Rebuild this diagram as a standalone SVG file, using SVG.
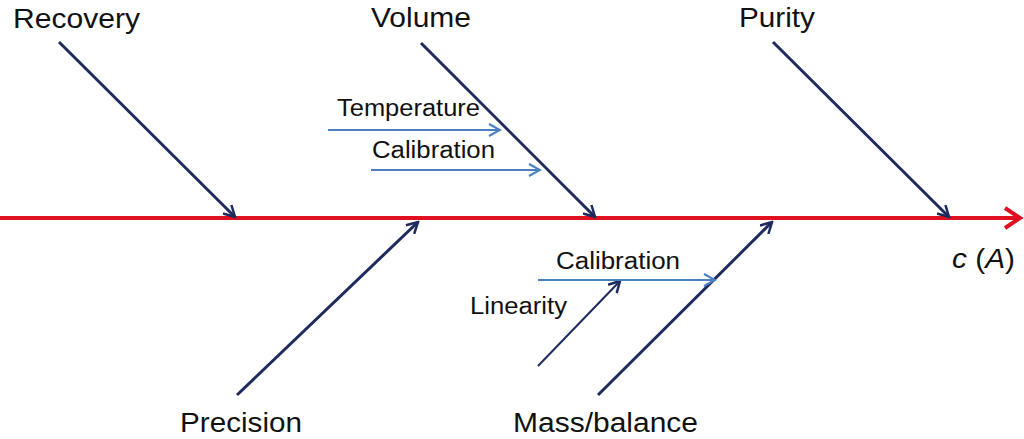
<svg xmlns="http://www.w3.org/2000/svg" width="1024" height="439" viewBox="0 0 1024 439">
  <defs>
    <style>
      .lbl { font-family: "Liberation Sans", Arial, sans-serif; fill: #111; }
      .big { font-size: 27px; }
      .small { font-size: 23px; }
      .branch { stroke: #1f2a5e; stroke-width: 3; fill: none; }
      .sub { stroke: #1f2a5e; stroke-width: 2; fill: none; }
      .blue { stroke: #4a7fc1; stroke-width: 2; fill: none; }
      .spine { stroke: #e0101e; stroke-width: 4; fill: none; }
    </style>
    <marker id="ahNavy" viewBox="0 0 14 14" markerWidth="14" markerHeight="14" refX="12" refY="7" orient="auto" markerUnits="userSpaceOnUse">
      <path d="M1,1 L12,7 L1,13" fill="none" stroke="#1f2a5e" stroke-width="2.5"/>
    </marker>
    <marker id="ahBlue" viewBox="0 0 14 14" markerWidth="14" markerHeight="14" refX="12" refY="7" orient="auto" markerUnits="userSpaceOnUse">
      <path d="M1,1 L12,7 L1,13" fill="none" stroke="#4a7fc1" stroke-width="2"/>
    </marker>
    <marker id="ahRed" viewBox="0 0 20 24" markerWidth="20" markerHeight="24" refX="17" refY="12" orient="auto" markerUnits="userSpaceOnUse">
      <path d="M2,2 L17,12 L2,22" fill="none" stroke="#e0101e" stroke-width="4"/>
    </marker>
  </defs>
  <rect width="1024" height="439" fill="#ffffff"/>

  <g id="connectors">
    <line class="spine" x1="0" y1="218" x2="1020" y2="218" marker-end="url(#ahRed)"/>
    <line class="branch" x1="59" y1="42" x2="235" y2="217" marker-end="url(#ahNavy)"/>
    <line class="branch" x1="421" y1="43" x2="595" y2="217" marker-end="url(#ahNavy)"/>
    <line class="branch" x1="773" y1="42" x2="949" y2="217" marker-end="url(#ahNavy)"/>
    <line class="branch" x1="237" y1="395" x2="418" y2="222" marker-end="url(#ahNavy)"/>
    <line class="branch" x1="598" y1="395" x2="772" y2="222" marker-end="url(#ahNavy)"/>
    <line class="sub" x1="538" y1="366" x2="620" y2="281" marker-end="url(#ahNavy)"/>
    <line class="blue" x1="328" y1="130" x2="500" y2="130" marker-end="url(#ahBlue)"/>
    <line class="blue" x1="371" y1="170" x2="540" y2="170" marker-end="url(#ahBlue)"/>
    <line class="blue" x1="538" y1="280" x2="715" y2="280" marker-end="url(#ahBlue)"/>
  </g>

  <g id="recovery"><text class="lbl big" x="13" y="28" textLength="127" lengthAdjust="spacingAndGlyphs">Recovery</text></g>
  <g id="volume"><text class="lbl big" x="371" y="27" textLength="100" lengthAdjust="spacingAndGlyphs">Volume</text></g>
  <g id="purity"><text class="lbl big" x="739" y="27" textLength="76" lengthAdjust="spacingAndGlyphs">Purity</text></g>
  <g id="precision"><text class="lbl big" x="180" y="432" textLength="122" lengthAdjust="spacingAndGlyphs">Precision</text></g>
  <g id="mass-balance"><text class="lbl big" x="513" y="432" textLength="185" lengthAdjust="spacingAndGlyphs">Mass/balance</text></g>
  <g id="temperature"><text class="lbl small" x="337" y="116" textLength="143" lengthAdjust="spacingAndGlyphs">Temperature</text></g>
  <g id="calibration-upper"><text class="lbl small" x="372" y="158" textLength="123" lengthAdjust="spacingAndGlyphs">Calibration</text></g>
  <g id="calibration-lower"><text class="lbl small" x="556" y="269" textLength="124" lengthAdjust="spacingAndGlyphs">Calibration</text></g>
  <g id="linearity"><text class="lbl small" x="470" y="314" textLength="97" lengthAdjust="spacingAndGlyphs">Linearity</text></g>
  <g id="result"><text class="lbl big" x="952" y="268" font-size="28" textLength="63" lengthAdjust="spacingAndGlyphs"><tspan font-style="italic">c</tspan> (<tspan font-style="italic">A</tspan>)</text></g>
</svg>
